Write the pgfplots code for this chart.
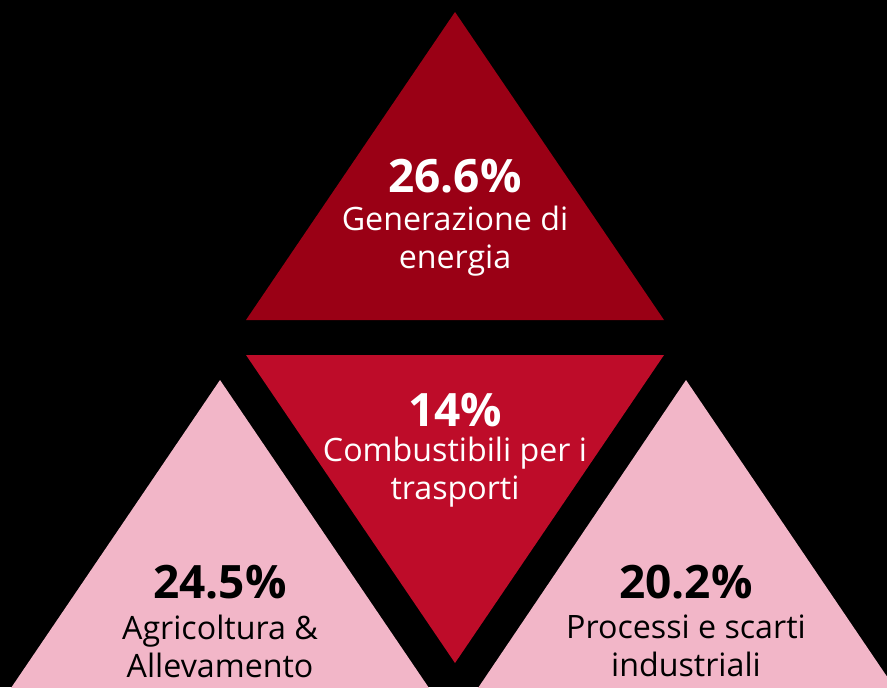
\documentclass[border=0pt]{standalone}
\usepackage{pgfplots}
\pgfplotsset{compat=1.18}
\usepackage{fontspec}
\setmainfont{Open Sans}
\definecolor{topred}{HTML}{9A0015}
\definecolor{midred}{HTML}{BE0C29}
\definecolor{pinkc}{HTML}{F2B6C8}
\begin{document}
\begin{tikzpicture}
\begin{axis}[
  width=443.5pt, height=343.5pt, scale only axis,
  xmin=0, xmax=887, ymin=0, ymax=687, y dir=reverse,
  hide axis, clip=true,
  axis background/.style={fill=black},
]
\addplot[fill=topred, draw=none] coordinates {(455,12) (664,320) (246,320)} -- cycle;
\addplot[fill=midred, draw=none] coordinates {(246,355) (664,355) (455,663)} -- cycle;
\addplot[fill=pinkc, draw=none] coordinates {(220,380) (429,688) (11,688)} -- cycle;
\addplot[fill=pinkc, draw=none] coordinates {(686,380) (887,676.6) (887,688) (478,688)} -- cycle;

\node[text=white, font=\fontsize{23}{26}\selectfont\bfseries] at (axis cs:455,176) {26.6\%};
\node[text=white, font=\fontsize{16.1}{19}\selectfont, align=center] at (axis cs:455,241) {Generazione di\\energia};
\node[text=white, font=\fontsize{23}{26}\selectfont\bfseries] at (axis cs:455,410) {14\%};
\node[text=white, font=\fontsize{16.1}{19}\selectfont, align=center] at (axis cs:455,472) {Combustibili per i\\trasporti};
\node[text=black, font=\fontsize{23}{26}\selectfont\bfseries] at (axis cs:220,582) {24.5\%};
\node[text=black, font=\fontsize{16.1}{19}\selectfont, align=center] at (axis cs:220,646) {Agricoltura \&\\Allevamento};
\node[text=black, font=\fontsize{23}{26}\selectfont\bfseries] at (axis cs:686,582) {20.2\%};
\node[text=black, font=\fontsize{16.1}{19}\selectfont, align=center] at (axis cs:686,646) {Processi e scarti\\industriali};
\end{axis}
\end{tikzpicture}
\end{document}
